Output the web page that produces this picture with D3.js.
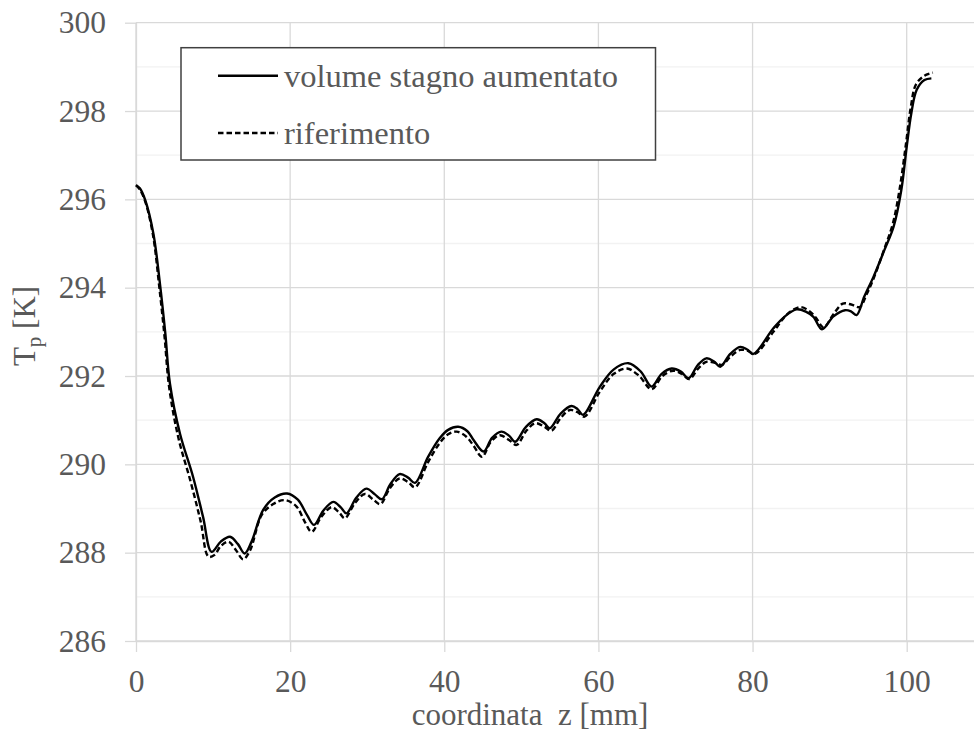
<!DOCTYPE html>
<html>
<head>
<meta charset="utf-8">
<script src="https://cdn.jsdelivr.net/npm/d3@7"></script>
<style>
  html, body { margin: 0; padding: 0; background: #ffffff; }
  svg { display: block; }
  svg text { font-family: 'Liberation Serif', 'Times New Roman', 'DejaVu Serif', serif !important; fill: #595959; }
</style>
</head>
<body>
<svg id="chart" width="974" height="736"></svg>
<script>
// ---- data ----
const seriesNames = ["volume stagno aumentato", "riferimento"];

const zSolid = [0, 0.5, 1.2, 2.25, 3.1, 3.8, 4.4, 5.7, 7.4, 8.7, 9.8, 11.0, 12.2, 13.2, 14.1, 15.0, 16.5, 18.0, 19.6, 21.0, 22.2, 23.1, 24.3, 25.6, 26.6, 27.3, 28.6, 29.9, 31.0, 31.9, 33.0, 34.2, 35.3, 36.2, 37.9, 39.4, 40.5, 41.8, 43.0, 43.8, 45.1, 46.2, 47.4, 48.4, 49.2, 50.6, 52.0, 53.0, 53.7, 55.1, 56.5, 57.3, 58.0, 60.2, 62.0, 63.9, 65.5, 66.9, 68.2, 69.5, 70.7, 71.7, 72.9, 74.0, 75.0, 75.8, 77.1, 78.4, 79.3, 80.1, 82.7, 84.2, 85.7, 86.9, 87.9, 89.0, 90.5, 92.0, 92.8, 93.5, 94.5, 95.7, 97.1, 98.3, 99.3, 100.0, 100.6, 101.3, 102.3, 103.2];
const tSolid = [296.32, 296.25, 295.98, 295.23, 294.10, 292.97, 291.83, 290.70, 289.72, 288.81, 288.02, 288.25, 288.36, 288.20, 287.98, 288.25, 288.97, 289.25, 289.34, 289.20, 288.85, 288.63, 288.95, 289.15, 289.02, 288.89, 289.25, 289.45, 289.32, 289.21, 289.55, 289.78, 289.70, 289.58, 290.17, 290.59, 290.78, 290.85, 290.75, 290.55, 290.29, 290.60, 290.74, 290.65, 290.51, 290.85, 291.02, 290.93, 290.82, 291.15, 291.32, 291.25, 291.12, 291.76, 292.15, 292.29, 292.10, 291.76, 292.05, 292.17, 292.10, 291.95, 292.25, 292.40, 292.33, 292.21, 292.50, 292.66, 292.60, 292.50, 293.08, 293.35, 293.51, 293.46, 293.34, 293.06, 293.35, 293.49, 293.46, 293.38, 293.80, 294.25, 294.85, 295.38, 296.21, 297.19, 297.95, 298.48, 298.70, 298.74];

const zRef = [0, 0.5, 1.2, 2.2, 3.0, 3.7, 4.3, 5.5, 7.1, 8.4, 9.4, 10.2, 11.0, 12.0, 13.0, 13.9, 14.8, 16.3, 17.8, 19.3, 20.8, 21.9, 22.8, 24.0, 25.4, 26.4, 27.1, 28.4, 29.7, 30.8, 31.7, 32.9, 34.2, 35.3, 36.2, 37.9, 39.4, 40.5, 41.6, 42.9, 43.8, 44.9, 46.0, 47.2, 48.4, 49.4, 50.6, 51.8, 53.0, 53.9, 55.1, 56.3, 57.3, 58.2, 60.2, 62.0, 63.7, 65.3, 66.9, 68.3, 69.7, 70.8, 71.8, 73.0, 74.0, 75.1, 76.0, 77.2, 78.4, 79.4, 80.3, 82.7, 84.5, 86.2, 87.5, 88.3, 89.2, 90.5, 91.7, 92.8, 93.9, 94.8, 95.8, 97.1, 98.2, 99.1, 99.9, 100.5, 101.2, 102.3, 103.4];
const tRef = [296.32, 296.22, 295.95, 295.20, 294.05, 292.90, 291.75, 290.60, 289.60, 288.70, 287.91, 287.95, 288.15, 288.25, 288.05, 287.85, 288.05, 288.85, 289.10, 289.19, 289.05, 288.70, 288.47, 288.80, 289.03, 288.90, 288.78, 289.12, 289.33, 289.20, 289.10, 289.45, 289.68, 289.60, 289.48, 290.05, 290.48, 290.68, 290.74, 290.62, 290.42, 290.17, 290.50, 290.66, 290.55, 290.44, 290.75, 290.93, 290.85, 290.76, 291.05, 291.23, 291.18, 291.08, 291.65, 292.05, 292.17, 292.00, 291.70, 292.00, 292.12, 292.05, 291.93, 292.18, 292.32, 292.30, 292.25, 292.45, 292.59, 292.57, 292.50, 293.00, 293.40, 293.56, 293.45, 293.30, 293.10, 293.40, 293.64, 293.62, 293.56, 293.85, 294.25, 294.88, 295.45, 296.25, 297.25, 298.05, 298.60, 298.80, 298.87];

const xTicks = [0, 20, 40, 60, 80, 100];
const yTicks = [286, 288, 290, 292, 294, 296, 298, 300];
const yMinorTicks = [287, 289, 291, 293, 295, 297, 299];
const xLabel = "coordinata  z [mm]";
const yLabelMain = "T";
const yLabelSub = "p";
const yLabelRest = " [K]";

// ---- layout ----
const FONT = "'Liberation Serif', 'Times New Roman', 'DejaVu Serif', serif";
const svg = d3.select("#chart");
const W = 974, H = 736;
const mLeft = 136, mTop = 22.7, mBottom = 641;
const x = d3.scaleLinear().domain([0, 110]).range([mLeft, mLeft + 110 * 7.707]);
const y = d3.scaleLinear().domain([286, 300]).range([mBottom, mTop]);

svg.append("rect").attr("width", W).attr("height", H).attr("fill", "#ffffff");

// minor horizontal gridlines
svg.append("g").selectAll("line").data(yMinorTicks).join("line")
  .attr("x1", mLeft).attr("x2", W)
  .attr("y1", d => y(d)).attr("y2", d => y(d))
  .attr("stroke", "#f2f2f2").attr("stroke-width", 1.3);

// major horizontal gridlines
svg.append("g").selectAll("line").data(yTicks).join("line")
  .attr("x1", mLeft).attr("x2", W)
  .attr("y1", d => y(d)).attr("y2", d => y(d))
  .attr("stroke", "#d9d9d9").attr("stroke-width", 1.3);

// vertical gridlines
svg.append("g").selectAll("line").data(xTicks).join("line")
  .attr("x1", d => x(d)).attr("x2", d => x(d))
  .attr("y1", mTop).attr("y2", mBottom)
  .attr("stroke", "#d9d9d9").attr("stroke-width", 1.3);

// axes
const xAxis = d3.axisBottom(x).tickValues(xTicks).tickSize(11).tickPadding(18).tickFormat(d3.format("d"));
const gx = svg.append("g").attr("transform", `translate(0,${mBottom})`).call(xAxis)
  .attr("font-family", null);
gx.select(".domain").attr("d", `M${mLeft},0.5H${W}`).attr("stroke", "#d9d9d9").attr("stroke-width", 1.3);
gx.selectAll(".tick line").attr("stroke", "#d9d9d9").attr("stroke-width", 1.3);
gx.selectAll(".tick text").attr("font-size", 31.5).attr("fill", "#595959").style("font-family", FONT);

const yAxis = d3.axisLeft(y).tickValues(yTicks).tickSize(11).tickPadding(19).tickFormat(d3.format("d"));
const gy = svg.append("g").attr("transform", `translate(${mLeft},0)`).call(yAxis)
  .attr("font-family", null);
gy.select(".domain").attr("d", `M0.5,${mTop}V${mBottom}`).attr("stroke", "#d9d9d9").attr("stroke-width", 1.3);
gy.selectAll(".tick line").attr("stroke", "#d9d9d9").attr("stroke-width", 1.3);
gy.selectAll(".tick text").attr("font-size", 31.5).attr("fill", "#595959").style("font-family", FONT);

// axis titles
svg.append("text")
  .attr("x", 530).attr("y", 725)
  .attr("text-anchor", "middle")
  .attr("font-size", 31)
  .style("font-family", FONT)
  .style("white-space", "pre")
  .text(xLabel);

const yt = svg.append("text")
  .attr("transform", "translate(35,326) rotate(-90)")
  .attr("text-anchor", "middle")
  .attr("font-size", 31)
  .style("font-family", FONT);
yt.append("tspan").text(yLabelMain);
yt.append("tspan").attr("font-size", 21).attr("dy", 6).text(yLabelSub);
yt.append("tspan").attr("dy", -6).style("white-space", "pre").text(yLabelRest);

// lines
const line = d3.line().x(d => x(d[0])).y(d => y(d[1])).curve(d3.curveCatmullRom.alpha(0.5));
const refData = zRef.map((z, i) => [z, tRef[i]]);
const solidData = zSolid.map((z, i) => [z, tSolid[i]]);

svg.append("path").datum(refData)
  .attr("d", line).attr("fill", "none")
  .attr("stroke", "#000").attr("stroke-width", 2.4)
  .attr("stroke-dasharray", "5.5,3");

svg.append("path").datum(solidData)
  .attr("d", line).attr("fill", "none")
  .attr("stroke", "#000").attr("stroke-width", 2.4);

// legend
const lg = svg.append("g");
lg.append("rect").attr("x", 181).attr("y", 47.7).attr("width", 474.5).attr("height", 112.3)
  .attr("fill", "#ffffff").attr("stroke", "#404040").attr("stroke-width", 1.5);
const legendItems = [
  { name: seriesNames[0], dash: null, ly: 75.7 },
  { name: seriesNames[1], dash: "5.5,3", ly: 133 }
];
legendItems.forEach(it => {
  lg.append("line").attr("x1", 218).attr("x2", 278).attr("y1", it.ly).attr("y2", it.ly)
    .attr("stroke", "#000").attr("stroke-width", 2.4)
    .attr("stroke-dasharray", it.dash);
  lg.append("text").attr("x", 284).attr("y", it.ly + 11)
    .attr("font-size", 32.5).style("font-family", FONT).text(it.name);
});
</script>
</body>
</html>
